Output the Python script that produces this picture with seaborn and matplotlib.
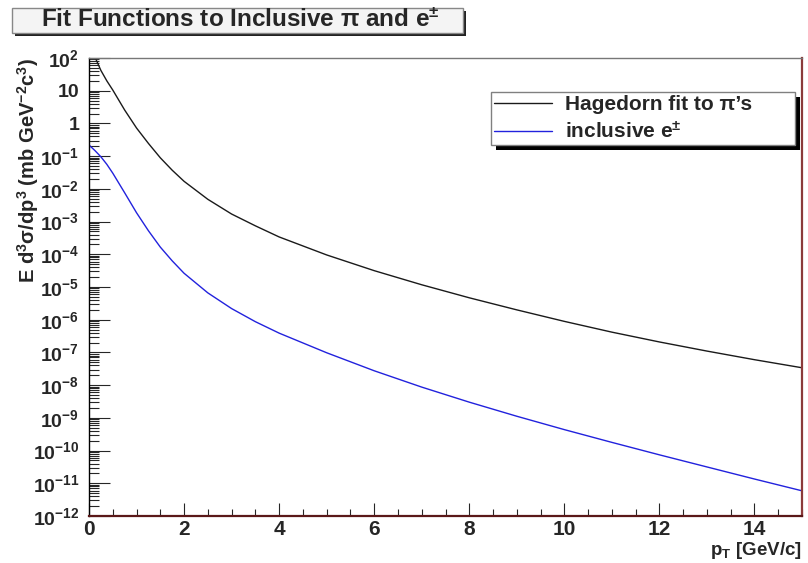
import numpy as np
import pandas as pd
import matplotlib
matplotlib.use("Agg")
import matplotlib.pyplot as plt
from matplotlib.patches import Rectangle
from matplotlib.ticker import LogLocator, FixedLocator, MultipleLocator, FuncFormatter, NullFormatter
import seaborn as sns

# values (pT in GeV/c, invariant cross section in mb GeV^-2 c^3)
pt = [0, 0.125, 0.25, 0.375, 0.5, 0.75, 1, 1.25, 1.5, 1.75, 2, 2.5, 3, 3.5, 4,
      5, 6, 7, 8, 9, 10, 11, 12, 13, 14, 15]
hagedorn = [316, 107, 41.7, 20, 10.5, 2.57, 0.724, 0.245, 0.0891, 0.0372, 0.0170, 4.79e-3,
            1.70e-3, 7.41e-4, 3.39e-4, 9.55e-5, 3.16e-5, 1.17e-5, 4.68e-6, 2.0e-6, 8.9e-7,
            4.17e-7, 2.09e-7, 1.10e-7, 6.0e-8, 3.4e-8]
electrons = [0.219, 0.148, 0.0955, 0.0562, 0.0302, 7.59e-3, 1.86e-3, 5.25e-4, 1.66e-4, 6.31e-5,
             2.63e-5, 6.61e-6, 2.19e-6, 8.71e-7, 3.89e-7, 9.77e-8, 2.75e-8, 8.71e-9, 3.02e-9,
             1.12e-9, 4.37e-10, 1.78e-10, 7.41e-11, 3.16e-11, 1.35e-11, 5.89e-12]
series_names = ["Hagedorn fit to \u03c0\u2019s", "inclusive e$^{\\pm}$"]
title_text = "Fit Functions to Inclusive \u03c0 and e$^{\\pm}$"

df = pd.concat([
    pd.DataFrame({"pT": pt, "val": hagedorn, "series": series_names[0]}),
    pd.DataFrame({"pT": pt, "val": electrons, "series": series_names[1]}),
])

sns.set_theme(style="white")
plt.rcParams["font.family"] = ["Liberation Sans", "DejaVu Sans"]
plt.rcParams["font.weight"] = "bold"
plt.rcParams["mathtext.fontset"] = "custom"
plt.rcParams["mathtext.rm"] = "Liberation Sans:bold"
plt.rcParams["mathtext.it"] = "Liberation Sans:bold"
plt.rcParams["mathtext.bf"] = "Liberation Sans:bold"

fig = plt.figure(figsize=(8.08, 5.63), dpi=100)
ax = fig.add_axes([89 / 808, 1 - 516 / 563, 713 / 808, 458 / 563])

sns.lineplot(data=df, x="pT", y="val", hue="series", palette=["#1a1a1a", "#2222dd"],
             linewidth=1.0, ax=ax, sort=False)

ax.set_yscale("log")
ax.set_xlim(0, 15)
ax.set_ylim(1e-12, 1e2)

# y ticks, ROOT style
ax.yaxis.set_major_locator(FixedLocator([10.0 ** k for k in range(-12, 3)]))
def ylab(v, pos):
    k = int(round(np.log10(v)))
    if k == 1:
        return "10"
    if k == 0:
        return "1"
    return r"$10^{%d}$" % k
ax.yaxis.set_major_formatter(FuncFormatter(ylab))
ax.yaxis.set_minor_locator(LogLocator(base=10, subs=np.arange(2, 10), numticks=100))
ax.yaxis.set_minor_formatter(NullFormatter())
ax.xaxis.set_major_locator(MultipleLocator(2))
ax.xaxis.set_minor_locator(MultipleLocator(0.5))

ax.tick_params(axis="y", which="major", direction="in", length=15, width=0.8, pad=7,
               labelsize=14, left=True, right=False)
ax.tick_params(axis="y", which="minor", direction="in", length=7, width=0.8, left=True, right=False)
ax.tick_params(axis="x", which="major", direction="in", length=9.5, width=0.8, pad=3,
               labelsize=15, bottom=True, top=False)
ax.tick_params(axis="x", which="minor", direction="in", length=5, width=0.8, bottom=True, top=False)
for lab in ax.get_xticklabels() + ax.get_yticklabels():
    lab.set_fontweight("bold")

ax.spines["left"].set_color("black")
ax.spines["left"].set_linewidth(1.0)
ax.spines["bottom"].set_color("#5a1818")
ax.spines["bottom"].set_linewidth(1.6)
ax.spines["right"].set_color("#8b3a3a")
ax.spines["right"].set_linewidth(1.6)
ax.spines["top"].set_color("#777777")
ax.spines["top"].set_linewidth(1.0)

ax.set_xlabel("p$_{T}$ [GeV/c]", fontsize=13.5, fontweight="bold")
ax.xaxis.set_label_coords(1.0, -0.076)
ax.xaxis.label.set_ha("right")
ax.xaxis.label.set_va("center")
ax.set_ylabel("E d$^{3}$\u03c3/dp$^{3}$ (mb GeV$^{-2}$c$^{3}$)", fontsize=14.5, fontweight="bold")
ax.yaxis.set_label_coords(-0.085, 1.0)
ax.yaxis.label.set_ha("right")
ax.yaxis.label.set_va("center")

# legend box, expanded to the reference width, with a hard black shadow
leg = ax.legend(loc="upper left", mode="expand",
                bbox_to_anchor=(491 / 808, 1 - 143 / 563, 304 / 808, 51 / 563),
                bbox_transform=fig.transFigure, frameon=True, fancybox=False,
                edgecolor="#808080", facecolor="white", framealpha=1,
                prop={"size": 15, "weight": "bold"}, handlelength=2.8,
                borderpad=0.15, handletextpad=0.6, labelspacing=0.33, borderaxespad=0)
leg.get_frame().set_linewidth(1.0)
leg.set_zorder(6)
for ln in leg.get_lines():
    ln.set_linewidth(1.0)

fig.canvas.draw()
bb = leg.get_window_extent().transformed(fig.transFigure.inverted())
ax.add_patch(Rectangle((bb.x0 + 5 / 808, bb.y0 - 5 / 563), bb.width, bb.height,
                       transform=fig.transFigure, facecolor="black", edgecolor="none",
                       zorder=5.5, clip_on=False))

# title box with shadow
fig.add_artist(Rectangle((15 / 808, 1 - 36 / 563), 451 / 808, 25 / 563,
                         transform=fig.transFigure, facecolor="#222222", edgecolor="none"))
fig.add_artist(Rectangle((12 / 808, 1 - 33 / 563), 451 / 808, 25 / 563,
                         transform=fig.transFigure, facecolor="#f4f4f4", edgecolor="#888888",
                         linewidth=1.0))
fig.text(240 / 808, 1 - 20.5 / 563, title_text, ha="center", va="center",
         fontsize=17.5, fontweight="bold")

fig.savefig("out.png", dpi=100)
